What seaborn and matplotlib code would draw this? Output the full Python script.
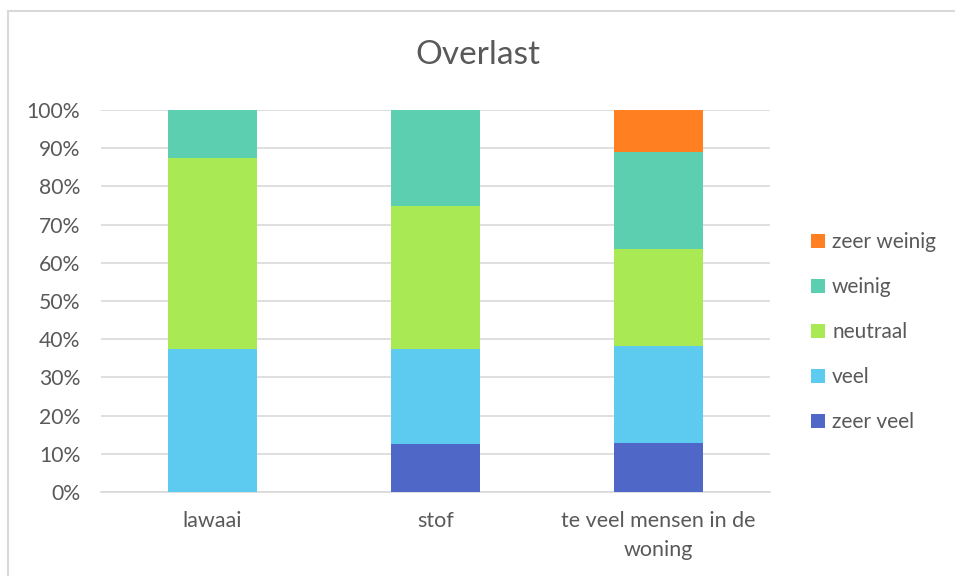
import matplotlib
matplotlib.use("Agg")
import matplotlib.pyplot as plt
import seaborn as sns
import pandas as pd
import numpy as np
from matplotlib.patches import Patch, Rectangle

categories = ["lawaai", "stof", "te veel mensen in de\nwoning"]
series = ["zeer veel", "veel", "neutraal", "weinig", "zeer weinig"]
zeer_veel = [0.0, 12.5, 12.7]
veel = [37.5, 25.0, 25.4]
neutraal = [50.0, 37.5, 25.4]
weinig = [12.5, 25.0, 25.4]
zeer_weinig = [0.0, 0.0, 11.1]
colors = ["#4F67C6", "#5DCBF0", "#A9E954", "#5DCFB1", "#FF7F21"]
title = "Overlast"

sns.set_theme(style="white")
plt.rcParams["font.family"] = ["Lato", "DejaVu Sans"]
grey = "#595959"

values = [zeer_veel, veel, neutraal, weinig, zeer_weinig]
cum = np.cumsum(np.array(values), axis=0)

fig = plt.figure(figsize=(9.55, 5.76), dpi=100)
ax = fig.add_axes([101 / 955, 84 / 576, 669 / 955, 382 / 576])

for i in range(len(series) - 1, -1, -1):
    df = pd.DataFrame({"cat": categories, "val": cum[i]})
    sns.barplot(data=df, x="cat", y="val", color=colors[i], width=0.4,
                saturation=1, ax=ax, linewidth=0, zorder=3)

ax.set_ylim(0, 100)
ax.set_xlim(-0.5, 2.5)
ax.set_yticks(np.arange(0, 101, 10))
ax.set_yticklabels([f"{v}%" for v in range(0, 101, 10)])
ax.yaxis.grid(True, color="#D9D9D9", linewidth=1.2, zorder=0)
ax.set_axisbelow(True)
for s in ["top", "right", "left"]:
    ax.spines[s].set_visible(False)
ax.spines["bottom"].set_color("#D9D9D9")
ax.spines["bottom"].set_linewidth(1.2)
ax.tick_params(axis="y", length=0, pad=15, labelsize=15.2, labelcolor=grey)
ax.tick_params(axis="x", length=0, pad=14, labelsize=15.5, labelcolor=grey)
for t in ax.get_xticklabels():
    t.set_linespacing(1.55)
ax.set_xlabel("")
ax.set_ylabel("")

fig.text(0.5, 1 - 55 / 576, title, ha="center", va="center", fontsize=24, color=grey)

handles = [Patch(facecolor=colors[i], edgecolor="none", label=series[i]) for i in range(len(series) - 1, -1, -1)]
leg = fig.legend(handles=handles, loc="upper left", bbox_to_anchor=(811 / 955, 1 - 232 / 576),
                 frameon=False, fontsize=15, handlelength=0.67, handleheight=0.67,
                 handletextpad=0.34, labelspacing=1.2, borderaxespad=0, borderpad=0)
for t in leg.get_texts():
    t.set_color(grey)

fig.patches.append(Rectangle((8 / 955, -0.1), 1.2, 1.1 - 11 / 576, transform=fig.transFigure,
                             fill=False, edgecolor="#D9D9D9", linewidth=1.5))

fig.savefig("out.png", dpi=100)
